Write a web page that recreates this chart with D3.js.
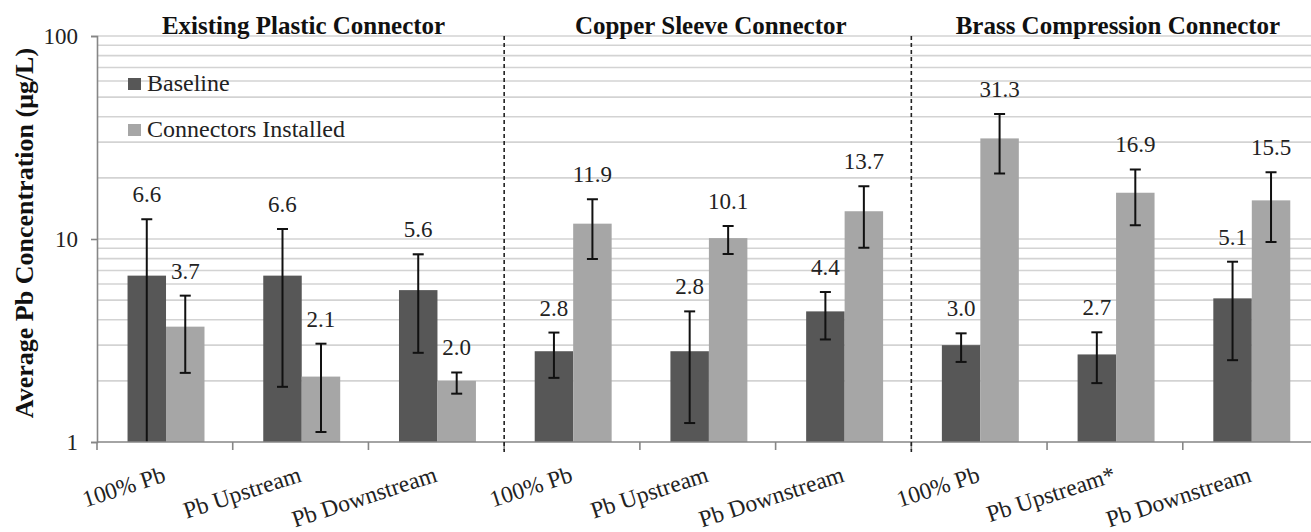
<!DOCTYPE html>
<html>
<head>
<meta charset="utf-8">
<script src="https://cdn.jsdelivr.net/npm/d3@7"></script>
<style>
  html, body { margin: 0; padding: 0; background: #fff; }
  svg { display: block; }
</style>
</head>
<body>
<svg id="chart" width="1311" height="532"></svg>
<script>
// Average Pb concentration per sampling location, before and after connector installation
const groups = ["Existing Plastic Connector", "Copper Sleeve Connector", "Brass Compression Connector"];
const categories = ["100% Pb", "Pb Upstream", "Pb Downstream",
                    "100% Pb", "Pb Upstream", "Pb Downstream",
                    "100% Pb", "Pb Upstream*", "Pb Downstream"];
const seriesNames = ["Baseline", "Connectors Installed"];

const baseline      = [6.6, 6.6, 5.6, 2.8, 2.8, 4.4, 3.0, 2.7, 5.1];
const baselineLow   = [0.6, 1.87, 2.75, 2.07, 1.24, 3.20, 2.48, 1.95, 2.53];
const baselineHigh  = [12.5, 11.2, 8.4, 3.46, 4.40, 5.48, 3.43, 3.47, 7.73];

const installed     = [3.7, 2.1, 2.0, 11.9, 10.1, 13.7, 31.3, 16.9, 15.5];
const installedLow  = [2.19, 1.12, 1.73, 7.97, 8.44, 9.06, 21.0, 11.7, 9.67];
const installedHigh = [5.26, 3.05, 2.20, 15.7, 11.6, 18.2, 41.3, 22.0, 21.3];

const yTicks = [1, 10, 100];
const gridValues = [2, 3, 4, 5, 6, 7, 8, 9, 10, 20, 30, 40, 50, 60, 70, 80, 90, 100];

const colors = ["#575757", "#a6a6a6"];
const serif = "'Liberation Serif', 'Times New Roman', serif";

const svg = d3.select("#chart");
const plotLeft = 97, plotRight = 1318.5, plotTop = 36, plotBottom = 442;

const x = d3.scaleBand().domain(d3.range(categories.length)).range([plotLeft, plotRight]).padding(0);
const bw = x.bandwidth();
const xs = d3.scaleBand().domain([0, 1]).range([bw * 0.225, bw * 0.792]).padding(0);
const y = d3.scaleLog().domain([1, 100]).range([plotBottom, plotTop]);

// clip region for the plot area
svg.append("defs").append("clipPath").attr("id", "plot")
  .append("rect").attr("x", plotLeft).attr("y", plotTop - 2)
  .attr("width", plotRight - plotLeft).attr("height", plotBottom - plotTop + 2);

// minor + major gridlines
svg.append("g").selectAll("line").data(gridValues).join("line")
  .attr("x1", plotLeft).attr("x2", plotRight)
  .attr("y1", d => y(d)).attr("y2", d => y(d))
  .attr("stroke", "#d3d3d3").attr("stroke-width", 1.6);

// bars
const series = [
  { vals: baseline, lo: baselineLow, hi: baselineHigh },
  { vals: installed, lo: installedLow, hi: installedHigh }
];
const barG = svg.append("g").attr("clip-path", "url(#plot)");
series.forEach((s, si) => {
  barG.append("g").selectAll("rect").data(s.vals).join("rect")
    .attr("x", (d, i) => x(i) + xs(si))
    .attr("width", xs.bandwidth())
    .attr("y", d => y(d))
    .attr("height", d => plotBottom - y(d))
    .attr("fill", colors[si]);
});

// error bars
series.forEach((s, si) => {
  const g = barG.append("g").attr("stroke", "#111").attr("stroke-width", 2);
  s.vals.forEach((v, i) => {
    const cx = x(i) + xs(si) + xs.bandwidth() / 2;
    const yh = y(s.hi[i]);
    const yl = Math.min(y(s.lo[i]), plotBottom);
    g.append("line").attr("x1", cx).attr("x2", cx).attr("y1", yh).attr("y2", yl);
    g.append("line").attr("x1", cx - 5.5).attr("x2", cx + 5.5).attr("y1", yh).attr("y2", yh);
    if (s.lo[i] >= 1) g.append("line").attr("x1", cx - 5.5).attr("x2", cx + 5.5).attr("y1", yl).attr("y2", yl);
  });
});

// value labels
series.forEach((s, si) => {
  svg.append("g").selectAll("text").data(s.vals).join("text")
    .attr("x", (d, i) => x(i) + xs(si) + xs.bandwidth() / 2)
    .attr("y", (d, i) => y(s.hi[i]) - 17)
    .attr("text-anchor", "middle")
    .attr("font-size", 23)
    .attr("fill", "#222")
    .text(d => d3.format(".1f")(d));
});

// y axis
const yAxis = d3.axisLeft(y).tickValues(yTicks).tickFormat(d3.format("d")).tickSize(6).tickPadding(13);
const yg = svg.append("g").attr("transform", `translate(${plotLeft},0)`).call(yAxis);
yg.select(".domain").attr("stroke", "#868686").attr("stroke-width", 1.6);
yg.selectAll(".tick line").attr("stroke", "#868686").attr("stroke-width", 1.6);
yg.selectAll(".tick text").attr("font-size", 23).attr("fill", "#222");

// x axis line and boundary ticks
svg.append("line").attr("x1", plotLeft).attr("x2", plotRight).attr("y1", plotBottom).attr("y2", plotBottom)
  .attr("stroke", "#868686").attr("stroke-width", 1.6);
svg.append("g").selectAll("line").data(d3.range(categories.length)).join("line")
  .attr("x1", i => x(i)).attr("x2", i => x(i))
  .attr("y1", plotBottom).attr("y2", plotBottom + 8)
  .attr("stroke", "#868686").attr("stroke-width", 1.6);

// category labels, slanted
svg.append("g").selectAll("text").data(categories).join("text")
  .attr("transform", (d, i) => `translate(${x(i) + bw / 2 + 2},481) rotate(-18)`)
  .attr("text-anchor", "end")
  .attr("font-size", 23.5)
  .attr("fill", "#222")
  .text(d => d);

// group separators
svg.append("g").selectAll("line").data([3, 6]).join("line")
  .attr("x1", i => x(i)).attr("x2", i => x(i))
  .attr("y1", plotTop).attr("y2", plotBottom + 10)
  .attr("stroke", "#222").attr("stroke-width", 1.6)
  .attr("stroke-dasharray", "4,3");

// group titles
svg.append("g").selectAll("text").data(groups).join("text")
  .attr("x", (d, gi) => (x(gi * 3) + x(gi * 3 + 2) + bw) / 2 + 3)
  .attr("y", 34)
  .attr("text-anchor", "middle")
  .attr("font-size", 25)
  .attr("font-weight", "bold")
  .attr("fill", "#111")
  .text(d => d);

// y axis title
svg.append("text")
  .attr("transform", `translate(33,${(plotTop + plotBottom) / 2 - 6}) rotate(-90)`)
  .attr("text-anchor", "middle")
  .attr("font-size", 26)
  .attr("font-weight", "bold")
  .attr("fill", "#111")
  .text("Average Pb Concentration (μg/L)");

// legend
const lg = svg.append("g");
seriesNames.forEach((n, i) => {
  lg.append("rect").attr("x", 128).attr("y", 78 + i * 46).attr("width", 13).attr("height", 12).attr("fill", colors[i]);
  lg.append("text").attr("x", 147).attr("y", 91 + i * 46).attr("font-size", 24).attr("fill", "#222").text(n);
});

// all text set in the serif face
svg.selectAll("text").style("font-family", serif);
</script>
</body>
</html>
